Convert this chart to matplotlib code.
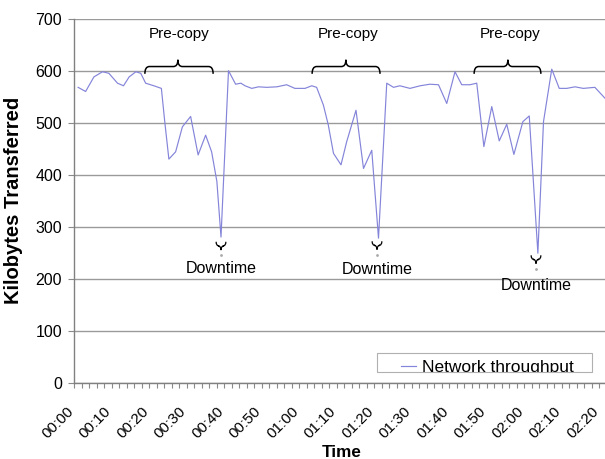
import matplotlib
matplotlib.use('Agg')
import matplotlib.pyplot as plt
import matplotlib.transforms as mtransforms
from matplotlib.path import Path
from matplotlib.patches import PathPatch, Rectangle

# ---- data ----
minutes = [1.1, 3.1, 5.3, 7.6, 9.3, 11.6, 13.2, 14.7, 16.5, 17.8, 19.1, 21.3, 23.3,
           24.2, 25.3, 27.1, 28.9, 31.1, 33.1, 35.1, 36.7, 38.1, 39.2, 41.2, 43.1,
           44.5, 45.6, 47.4, 49.2, 51.4, 54.1, 56.7, 58.9, 61.6, 63.4, 64.7, 66.5,
           67.8, 69.2, 71.2, 72.7, 75.2, 77.2, 79.4, 81.2, 83.4, 85.2, 86.9, 89.6,
           92.3, 94.9, 97.2, 99.4, 101.6, 103.4, 105.6, 107.4, 109.3, 111.4, 113.4,
           115.4, 117.3, 119.7, 121.4, 122.5, 123.7, 125.2, 127.4, 129.4, 131.4,
           133.6, 135.8, 138.9, 141.6]
kb = [568, 560, 588, 598, 595, 576, 571, 588, 598, 595, 576, 571, 566,
      502, 430, 444, 492, 512, 438, 476, 444, 387, 280, 600, 574,
      576, 571, 566, 569, 568, 569, 573, 566, 566, 571, 568, 534,
      496, 441, 419, 463, 524, 412, 447, 278, 576, 568, 571, 566,
      571, 574, 573, 537, 598, 573, 573, 576, 454, 531, 465,
      497, 439, 502, 513, 387, 249, 502, 603, 566, 566,
      569, 566, 568, 547]
series_label = 'Network throughput'

xtick_minutes = list(range(0, 141, 10))
xtick_labels = ['%02d:%02d' % (m // 60, m % 60) for m in xtick_minutes]
yticks = list(range(0, 701, 100))

precopy_text = 'Pre-copy'
precopy_text_x = [28.1, 73.1, 116.4]
precopy_brace = [(18.9, 27.7, 37.1), (63.5, 72.5, 81.6), (106.7, 115.7, 124.5)]
downtime_text = 'Downtime'
downtime_x = [39.2, 80.8, 123.2]
downtime_text_y = [219, 217, 186]
downtime_brace_top = [271, 272, 245]

FONT = 'Liberation Sans'
plt.rcParams['font.family'] = [FONT, 'DejaVu Sans']

fig = plt.figure(figsize=(6.05, 4.59), dpi=100)
ax = fig.add_axes([74 / 605, 1 - 382.7 / 459, 531 / 605, 364 / 459])

line, = ax.plot(minutes, kb, color='#8484da', lw=0.85, label=series_label, zorder=3)

ax.set_xlim(0, 531 / 3.75)
ax.set_ylim(0, 700)
ax.set_yticks(yticks)
ax.set_xticks(xtick_minutes)
ax.set_xticks(list(range(0, 142, 2)), minor=True)
ax.set_xticklabels(xtick_labels, rotation=45, ha='right', va='baseline',
                   rotation_mode='anchor', fontsize=11)
shift = mtransforms.ScaledTranslation(-2 / 100, -3 / 100, fig.dpi_scale_trans)
for lab in ax.get_xticklabels():
    lab.set_transform(lab.get_transform() + shift)
ax.tick_params(axis='x', which='both', length=3.6, width=0.8, color='#8a8a8a',
               direction='out', pad=17.5)
ax.tick_params(axis='y', length=4.5, width=0.8, color='#8a8a8a', labelsize=11.5, pad=4)
ax.grid(axis='y', color='#9a9a9a', lw=1.0)
ax.set_axisbelow(True)
for s in ['top', 'right']:
    ax.spines[s].set_visible(False)
for s in ['left', 'bottom']:
    ax.spines[s].set_color('#808080')
    ax.spines[s].set_linewidth(1.0)

ax.set_ylabel('Kilobytes Transferred', fontsize=14.5, fontweight='bold', labelpad=9)
ax.set_xlabel('Time', fontsize=12.3, fontweight='bold', va='top')
ax.xaxis.set_label_coords(0.504, -0.171)


def brace(x0, xm, x1, y_end, y_mid, y_tip, w, lw=1.1, color='black'):
    verts = [(x0, y_end), (x0, y_mid), (x0 + w, y_mid),
             (xm - w, y_mid), (xm, y_mid), (xm, y_tip),
             (xm, y_mid), (xm + w, y_mid),
             (x1 - w, y_mid), (x1, y_mid), (x1, y_end)]
    codes = [Path.MOVETO, Path.CURVE3, Path.CURVE3,
             Path.LINETO, Path.CURVE3, Path.CURVE3,
             Path.CURVE3, Path.CURVE3,
             Path.LINETO, Path.CURVE3, Path.CURVE3]
    ax.add_patch(PathPatch(Path(verts, codes), fill=False, lw=lw, ec=color,
                           zorder=4, clip_on=False))


for (x0, xm, x1), tx in zip(precopy_brace, precopy_text_x):
    brace(x0, xm, x1, 594, 608, 621, 1.2)
    ax.text(tx, 671, precopy_text, ha='center', va='center', fontsize=11)

for xc, ty, top in zip(downtime_x, downtime_text_y, downtime_brace_top):
    brace(xc - 1.3, xc, xc + 1.3, top, top - 8, top - 16, 0.8, lw=0.9)
    ax.plot([xc], [top - 26], marker='o', ms=1.0, color='#aaaaaa', zorder=4)
    ax.text(xc, ty, downtime_text, ha='center', va='center', fontsize=11.5)

# legend: frame drawn as a rectangle, entry clipped by it (as in the reference)
frame = Rectangle((0.5706, 0.0302), 0.4049, 0.0522, transform=ax.transAxes,
                  facecolor='white', edgecolor='#b0b0b0', lw=0.8, zorder=5)
ax.add_patch(frame)
leg = ax.legend(handles=[line], loc='center', bbox_to_anchor=(0.7787, 0.043),
                fontsize=12.5, frameon=False, borderpad=0.0, handlelength=0.85,
                handletextpad=0.35, borderaxespad=0)
leg.set_zorder(6)
for t in leg.get_texts():
    t.set_clip_path(frame)
for h in leg.legend_handles:
    h.set_clip_path(frame)

fig.savefig('out.png', dpi=100)
